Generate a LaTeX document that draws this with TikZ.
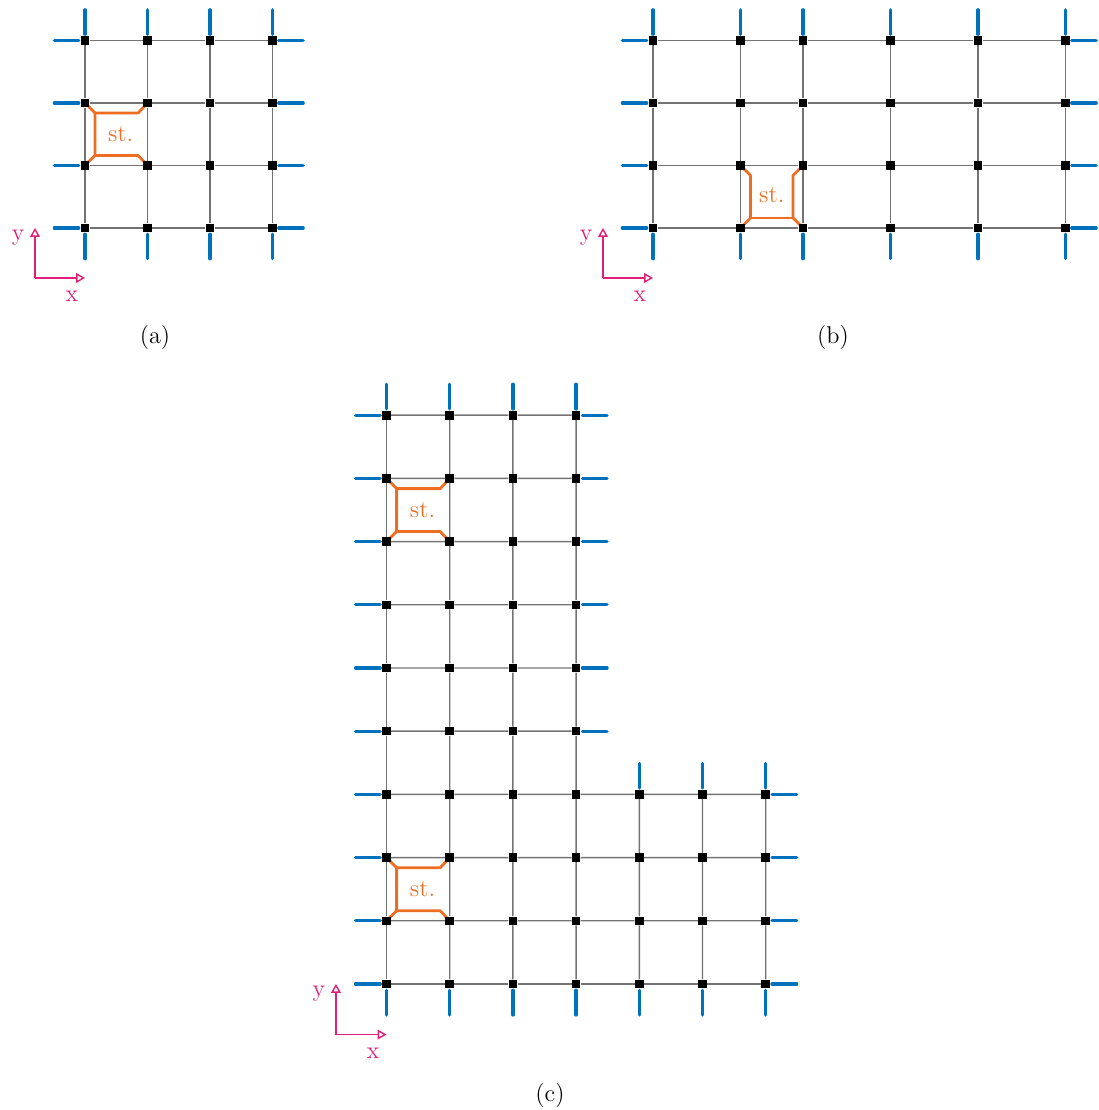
\documentclass[tikz,border=0pt]{standalone}
\usepackage{xcolor}
\usepackage{tikz}
\usetikzlibrary{arrows.meta,calc}
\definecolor{legblue}{RGB}{0,114,189}
\definecolor{stborange}{RGB}{237,110,35}
\definecolor{axmagenta}{RGB}{225,30,120}
\newcommand{\figfont}{\fontsize{13.8}{16}\selectfont}
\tikzset{
  site/.style={rectangle, fill=black, inner sep=0pt, minimum size=0.17cm},
  bond/.style={line width=0.8pt, draw=black!55},
  leg/.style={line width=1.9pt, draw=legblue, line cap=round},
  stab/.style={line width=1.6pt, draw=stborange, line join=round},
  stlabel/.style={text=stborange, font=\figfont},
  axarr/.style={-{Triangle[open, length=5pt, width=5.5pt]}, line width=0.8pt, draw=axmagenta},
  axlabel/.style={text=axmagenta, font=\figfont},
  caption/.style={font=\figfont},
}

\begin{document}
\begin{tikzpicture}[x=1.25cm, y=1.25cm]
  \useasboundingbox (0,0) rectangle (17.584,17.76);

  % (a) square patch
  \begin{scope}[shift={(1.36,14.112)}]
    % stabilizer
    \draw[stab] (0,2) -- (0.16,1.84) -- (0.16,1.16) -- (0,1);
    \draw[stab] (1,2) -- (0.85,1.84) -- (0.16,1.84);
    \draw[stab] (1,1) -- (0.85,1.16) -- (0.16,1.16);
    \node[stlabel] (a-st) at (0.57,1.5) {st.};
    % sites and bonds
    \foreach \i in {0,...,3}
      \foreach \j in {0,...,3}
        \node[site] (a-\i-\j) at (\i,\j) {};
    \foreach \i/\k in {0/1,1/2,2/3}
      \foreach \j in {0,...,3}{
        \draw[bond] (a-\i-\j) -- (a-\k-\j);
        \draw[bond] (a-\j-\i) -- (a-\j-\k);
      }
    % open legs
    \foreach \n in {0,...,3}{
      \draw[leg] (a-\n-3) ++(0,0.1) -- ++(0,0.39);
      \draw[leg] (a-\n-0) ++(0,-0.1) -- ++(0,-0.39);
      \draw[leg] (a-0-\n) ++(-0.1,0) -- ++(-0.39,0);
      \draw[leg] (a-3-\n) ++(0.1,0) -- ++(0.39,0);
    }
    % axes
    \coordinate (a-o) at (-0.8,-0.8);
    \coordinate (a-ye) at (-0.8,0);
    \coordinate (a-xe) at (0,-0.8);
    \draw[axarr] (a-o) -- (a-ye);
    \draw[axarr] (a-o) -- (a-xe);
    \node[axlabel] (a-y) at (-1.07,-0.16) {y};
    \node[axlabel] (a-x) at (-0.21,-1.1) {x};
  \end{scope}

  % (b) rectangular patch
  \begin{scope}[shift={(10.448,14.112)}]
    % stabilizer
    \draw[stab] (1.4,1) -- (1.56,0.84) -- (1.56,0.16) -- (1.4,0);
    \draw[stab] (2.4,1) -- (2.24,0.84) -- (2.24,0.16) -- (2.4,0);
    \draw[stab] (1.56,0.16) -- (2.24,0.16);
    \node[stlabel] (b-st) at (1.9,0.53) {st.};
    % sites and bonds
    \foreach \x [count=\i from 0] in {0,1.4,2.4,3.8,5.2,6.6}
      \foreach \j in {0,...,3}
        \node[site] (b-\i-\j) at (\x,\j) {};
    \foreach \i/\k in {0/1,1/2,2/3,3/4,4/5}
      \foreach \j in {0,...,3}
        \draw[bond] (b-\i-\j) -- (b-\k-\j);
    \foreach \i in {0,...,5}
      \foreach \j/\k in {0/1,1/2,2/3}
        \draw[bond] (b-\i-\j) -- (b-\i-\k);
    % open legs
    \foreach \i in {0,...,5}{
      \draw[leg] (b-\i-3) ++(0,0.1) -- ++(0,0.39);
      \draw[leg] (b-\i-0) ++(0,-0.1) -- ++(0,-0.39);
    }
    \foreach \j in {0,...,3}{
      \draw[leg] (b-0-\j) ++(-0.1,0) -- ++(-0.39,0);
      \draw[leg] (b-5-\j) ++(0.1,0) -- ++(0.39,0);
    }
    % axes
    \coordinate (b-o) at (-0.8,-0.8);
    \coordinate (b-ye) at (-0.8,0);
    \coordinate (b-xe) at (0,-0.8);
    \draw[axarr] (b-o) -- (b-ye);
    \draw[axarr] (b-o) -- (b-xe);
    \node[axlabel] (b-y) at (-1.07,-0.16) {y};
    \node[axlabel] (b-x) at (-0.21,-1.1) {x};
  \end{scope}

  % (c) L-shaped patch
  \begin{scope}[shift={(6.184,2.016)}, scale=1.011]
    % stabilizers
    \foreach \j in {1,7}{
      \draw[stab] (0,\j+1) -- (0.16,\j+0.84) -- (0.16,\j+0.16) -- (0,\j);
      \draw[stab] (1,\j+1) -- (0.85,\j+0.84) -- (0.16,\j+0.84);
      \draw[stab] (1,\j) -- (0.85,\j+0.16) -- (0.16,\j+0.16);
    }
    \node[stlabel] (c-st1) at (0.57,7.5) {st.};
    \node[stlabel] (c-st2) at (0.57,1.5) {st.};
    % sites and bonds
    \foreach \i in {0,...,3}
      \foreach \j in {0,...,9}
        \node[site] (c-\i-\j) at (\i,\j) {};
    \foreach \i in {4,...,6}
      \foreach \j in {0,...,3}
        \node[site] (c-\i-\j) at (\i,\j) {};
    \foreach \i/\k in {0/1,1/2,2/3}
      \foreach \j in {0,...,9}
        \draw[bond] (c-\i-\j) -- (c-\k-\j);
    \foreach \i/\k in {3/4,4/5,5/6}
      \foreach \j in {0,...,3}
        \draw[bond] (c-\i-\j) -- (c-\k-\j);
    \foreach \i in {0,...,3}
      \foreach \j/\k in {0/1,1/2,2/3,3/4,4/5,5/6,6/7,7/8,8/9}
        \draw[bond] (c-\i-\j) -- (c-\i-\k);
    \foreach \i in {4,...,6}
      \foreach \j/\k in {0/1,1/2,2/3}
        \draw[bond] (c-\i-\j) -- (c-\i-\k);
    % open legs
    \foreach \i in {0,...,3}
      \draw[leg] (c-\i-9) ++(0,0.1) -- ++(0,0.39);
    \foreach \i in {4,...,6}
      \draw[leg] (c-\i-3) ++(0,0.1) -- ++(0,0.39);
    \foreach \i in {0,...,6}
      \draw[leg] (c-\i-0) ++(0,-0.1) -- ++(0,-0.39);
    \foreach \j in {0,...,9}
      \draw[leg] (c-0-\j) ++(-0.1,0) -- ++(-0.39,0);
    \foreach \j in {4,...,9}
      \draw[leg] (c-3-\j) ++(0.1,0) -- ++(0.39,0);
    \foreach \j in {0,...,3}
      \draw[leg] (c-6-\j) ++(0.1,0) -- ++(0.39,0);
    % axes
    \coordinate (c-o) at (-0.8,-0.8);
    \coordinate (c-ye) at (-0.8,0);
    \coordinate (c-xe) at (0,-0.8);
    \draw[axarr] (c-o) -- (c-ye);
    \draw[axarr] (c-o) -- (c-xe);
    \node[axlabel] (c-y) at (-1.07,-0.16) {y};
    \node[axlabel] (c-x) at (-0.21,-1.1) {x};
  \end{scope}

  % captions
  \node[caption] (cap-a) at (2.48,12.368) {(a)};
  \node[caption] (cap-b) at (13.328,12.368) {(b)};
  \node[caption] (cap-c) at (8.8,0.24) {(c)};
\end{tikzpicture}
\end{document}
